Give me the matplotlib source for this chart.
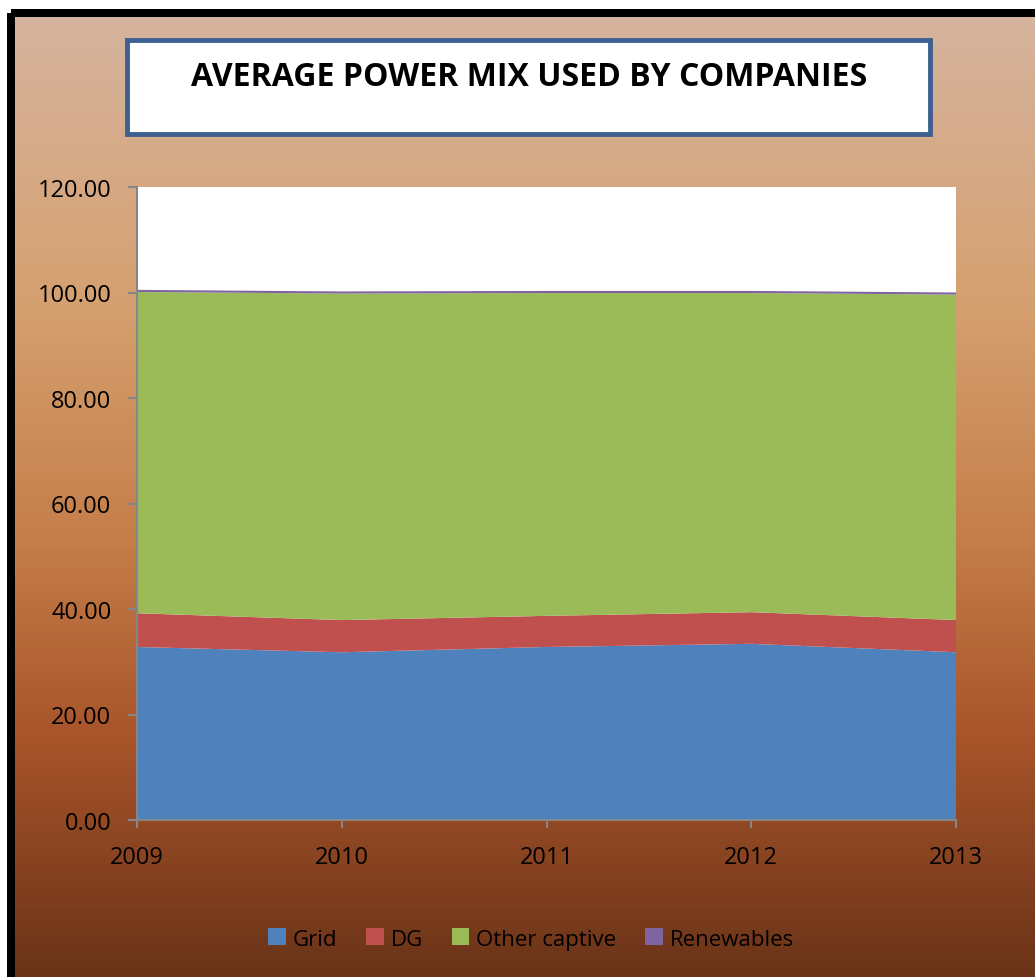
import numpy as np
import matplotlib.pyplot as plt
from matplotlib.patches import Rectangle, Patch
from matplotlib.colors import LinearSegmentedColormap

# -----------------------------
# Data
# -----------------------------
years = [2009, 2010, 2011, 2012, 2013]
grid = [32.8, 31.8, 32.8, 33.4, 31.8]
dg = [6.4, 6.1, 5.9, 6.0, 6.1]
other_captive = [60.9, 61.9, 61.2, 60.5, 61.7]
renewables = [0.4, 0.4, 0.4, 0.4, 0.4]

series_names = ['Grid', 'DG', 'Other captive', 'Renewables']
colors = ['#4F81BD', '#C0504D', '#9BBB59', '#8064A2']
yticks = [0, 20, 40, 60, 80, 100, 120]

plt.rcParams['font.family'] = ['Open Sans', 'DejaVu Sans']

W, H = 1035, 978
fig = plt.figure(figsize=(W / 100, H / 100), dpi=100, facecolor='white')

# -----------------------------
# Background gradient + border
# -----------------------------
bg = fig.add_axes([15 / W, 0, 1 - 15 / W, 1 - 18 / H], zorder=-10)
bg.axis('off')
cmap = LinearSegmentedColormap.from_list('brown', [
    (0.0, '#D6B49E'),
    (0.3, '#D5A070'),
    (0.55, '#C47D48'),
    (0.75, '#A8542A'),
    (1.0, '#6A3318'),
])
grad = np.linspace(0, 1, 256).reshape(-1, 1)
bg.imshow(grad, aspect='auto', cmap=cmap, extent=[0, 1, 0, 1], origin='upper')
bg.set_xlim(0, 1)
bg.set_ylim(0, 1)

ov = fig.add_axes([0, 0, 1, 1], zorder=-5)
ov.axis('off')
ov.set_xlim(0, W)
ov.set_ylim(H, 0)
# black frame
ov.add_patch(Rectangle((11, 14), 1200, 966, fill=False, edgecolor='black',
                       linewidth=8 * 0.72, joinstyle='round'))
# title box
ov.add_patch(Rectangle((127, 41), 803, 94, facecolor='white',
                       edgecolor='#3D6090', linewidth=3.5))
ov.text(529, 77, 'AVERAGE POWER MIX USED BY COMPANIES', ha='center',
        va='center', fontsize=23, fontweight='bold')

# -----------------------------
# Stacked area chart
# -----------------------------
ax = fig.add_axes([137 / W, 1 - 821 / H, 819 / W, 633 / H])
ax.set_facecolor('white')
ax.stackplot(years, grid, dg, other_captive, renewables, colors=colors,
             linewidth=0)

ax.set_xlim(2009, 2013)
ax.set_ylim(0, 120)
ax.set_xticks(years)
ax.set_yticks(yticks)
ax.set_yticklabels([f'{v:.2f}' for v in yticks])

for s in ['top', 'right']:
    ax.spines[s].set_visible(False)
for s in ['left', 'bottom']:
    ax.spines[s].set_color('#868686')
    ax.spines[s].set_linewidth(1.5)
ax.tick_params(axis='y', colors='#868686', labelcolor='black', length=6.5,
               width=1.5, labelsize=17, pad=12)
ax.tick_params(axis='x', colors='#868686', labelcolor='black', length=6,
               width=1.5, labelsize=17, pad=12)

# -----------------------------
# Legend
# -----------------------------
handles = [Patch(facecolor=c, edgecolor='none') for c in colors]
fig.legend(handles, series_names, loc='center', ncol=4,
           bbox_to_anchor=(531 / W, 1 - 940 / H), frameon=False,
           fontsize=16, handlelength=0.8, handleheight=0.8,
           handletextpad=0.3, columnspacing=1.3)

fig.savefig('out.png', dpi=100, facecolor='white')
